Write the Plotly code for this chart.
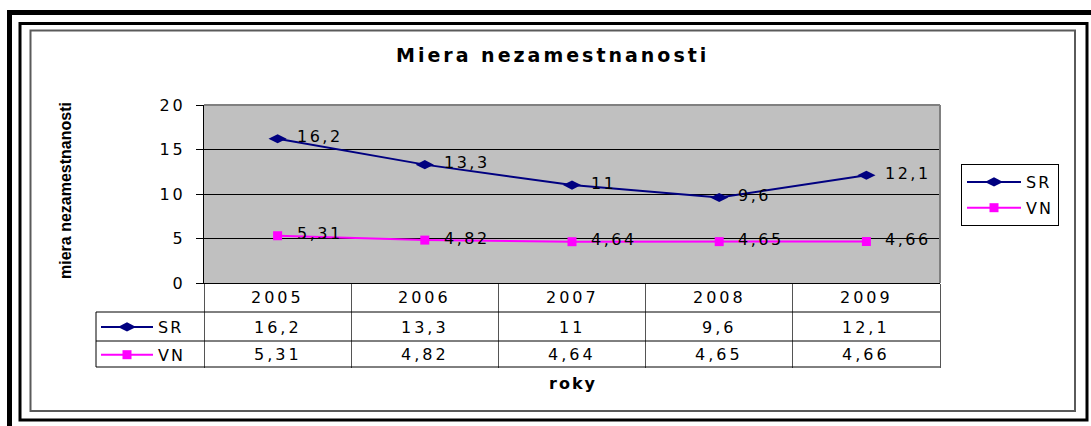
import plotly.graph_objects as go

# ---- data ----
years = ["2005", "2006", "2007", "2008", "2009"]
sr = [16.2, 13.3, 11, 9.6, 12.1]
vn = [5.31, 4.82, 4.64, 4.65, 4.66]
series_names = ["SR", "VN"]
y_ticks = [0, 5, 10, 15, 20]
title_text = "Miera nezamestnanosti"
y_title = "miera nezamestnanosti"
x_title = "roky"

# ---- helpers ----
W, H = 1091, 426


def px_x(p):
    return p / W


def px_y(p):
    return (H - p) / H


def fmt(v):
    return f"{v:g}".replace(".", ",")


def sp(t, s):
    return f'<span style="letter-spacing:{s}px">{t}</span>'


FONT = "DejaVu Sans"
ARIAL = "Liberation Sans, Arial"
SR_COLOR = "#000080"
VN_COLOR = "#FF00FF"
styles = {
    "SR": dict(color=SR_COLOR, symbol="diamond-wide", size=13),
    "VN": dict(color=VN_COLOR, symbol="square", size=9),
}

PLOT_L, PLOT_R, PLOT_T, PLOT_B = 204, 940, 105, 283
TABLE_L = 96
ROW_LINES = [312, 341, 367]
HEADER_Y = 297
ROW_Y = [327, 354]

fig = go.Figure()
series_vals = [sr, vn]
for i, (name, vals) in enumerate(zip(series_names, series_vals)):
    st = styles[name]
    fig.add_trace(go.Scatter(
        x=years, y=vals, mode="lines+markers", name=sp(name, 2),
        line=dict(color=st["color"], width=2),
        marker=dict(symbol=st["symbol"], size=st["size"], color=st["color"]),
        legend="legend", legendgroup=f"m{i}", cliponaxis=False,
    ))
for i, name in enumerate(series_names):
    st = styles[name]
    fig.add_trace(go.Scatter(
        x=[None], y=[None], mode="lines+markers", name=sp(name, 2),
        line=dict(color=st["color"], width=2),
        marker=dict(symbol=st["symbol"], size=st["size"], color=st["color"]),
        legend="legend2", legendgroup=f"t{i}", hoverinfo="skip",
    ))

annotations = []
# data labels (x given as category index)
for vals in series_vals:
    for ci, v in enumerate(vals):
        annotations.append(dict(
            x=ci, y=v, xref="x", yref="y", text=sp(fmt(v), 2.5), showarrow=False,
            xanchor="left", yanchor="middle", xshift=17, yshift=2,
            font=dict(family=FONT, size=16, color="black"),
        ))
# table header and cells
for ci, yr in enumerate(years):
    annotations.append(dict(
        x=ci, y=px_y(HEADER_Y), xref="x", yref="paper", text=sp(yr, 3), showarrow=False,
        xanchor="center", yanchor="middle", font=dict(family=FONT, size=16, color="black"),
    ))
for ry, vals in zip(ROW_Y, series_vals):
    for ci, v in enumerate(vals):
        annotations.append(dict(
            x=ci, y=px_y(ry), xref="x", yref="paper", text=sp(fmt(v), 3), showarrow=False,
            xanchor="center", yanchor="middle", font=dict(family=FONT, size=16, color="black"),
        ))
# titles
annotations.append(dict(
    x=px_x(552), y=px_y(55), xref="paper", yref="paper", text=sp(title_text, 3),
    showarrow=False, xanchor="center", yanchor="middle",
    font=dict(family=FONT, size=19, color="black", weight="bold"),
))
annotations.append(dict(
    x=px_x(65), y=px_y(191), xref="paper", yref="paper", text=y_title, textangle=-90,
    showarrow=False, xanchor="center", yanchor="middle",
    font=dict(family=ARIAL, size=16, color="black", weight="bold"),
))
annotations.append(dict(
    x=px_x(573), y=px_y(383), xref="paper", yref="paper", text=sp(x_title, 2),
    showarrow=False, xanchor="center", yanchor="middle",
    font=dict(family=FONT, size=16, color="black", weight="bold"),
))

shapes = []
# frames
shapes.append(dict(type="rect", xref="paper", yref="paper", x0=px_x(9.5), x1=px_x(1110),
                   y0=px_y(12.5), y1=px_y(450), line=dict(color="black", width=5)))
shapes.append(dict(type="rect", xref="paper", yref="paper", x0=px_x(20), x1=px_x(1087),
                   y0=px_y(23.5), y1=px_y(420), line=dict(color="black", width=3)))
shapes.append(dict(type="rect", xref="paper", yref="paper", x0=px_x(30.5), x1=px_x(1075),
                   y0=px_y(30.5), y1=px_y(411), line=dict(color="#5a5a5a", width=2)))
# plot area top / right border
shapes.append(dict(type="line", xref="x domain", yref="y domain", x0=0, x1=1, y0=1, y1=1,
                   line=dict(color="#808080", width=2), layer="above"))
shapes.append(dict(type="line", xref="x domain", yref="y domain", x0=1, x1=1, y0=0, y1=1,
                   line=dict(color="#808080", width=2), layer="above"))
# table lines
for ly in ROW_LINES:
    shapes.append(dict(type="line", xref="paper", yref="paper", x0=px_x(TABLE_L), x1=px_x(PLOT_R),
                       y0=px_y(ly), y1=px_y(ly), line=dict(color="black", width=1)))
shapes.append(dict(type="line", xref="paper", yref="paper", x0=px_x(TABLE_L), x1=px_x(TABLE_L),
                   y0=px_y(ROW_LINES[0]), y1=px_y(ROW_LINES[-1]), line=dict(color="black", width=1)))

fig.update_layout(
    width=W, height=H, margin=dict(l=0, r=0, t=0, b=0, pad=0, autoexpand=False),
    paper_bgcolor="white", plot_bgcolor="#C0C0C0",
    xaxis=dict(
        domain=[px_x(PLOT_L), px_x(PLOT_R)], type="category", categoryorder="array",
        categoryarray=years, range=[-0.5, len(years) - 0.5], autorange=False, automargin=False,
        showline=True, linecolor="black",
        linewidth=1, ticks="outside", tickson="boundaries", ticklen=ROW_LINES[-1] - PLOT_B,
        tickcolor="#555555", tickwidth=1, showticklabels=False, showgrid=False, fixedrange=True,
    ),
    yaxis=dict(
        domain=[px_y(PLOT_B), px_y(PLOT_T)], range=[0, 20], autorange=False, automargin=False,
        tickvals=y_ticks,
        ticktext=[sp(str(t), 3) for t in y_ticks], ticks="outside", ticklen=7, tickcolor="black",
        showline=True, linecolor="black", linewidth=1, showgrid=True, gridcolor="black",
        gridwidth=1, zeroline=False, tickfont=dict(family=FONT, size=16, color="black"),
        ticklabelstandoff=7, fixedrange=True,
    ),
    legend=dict(
        x=px_x(961), y=px_y(164), xanchor="left", yanchor="top", bordercolor="black",
        borderwidth=1, bgcolor="white", font=dict(family=FONT, size=16, color="black"),
        itemwidth=54, tracegroupgap=2,
    ),
    legend2=dict(
        x=px_x(TABLE_L), y=px_y(ROW_LINES[0] - 2), xanchor="left", yanchor="top",
        borderwidth=0, bgcolor="rgba(0,0,0,0)", font=dict(family=FONT, size=16, color="black"),
        itemwidth=52, tracegroupgap=4,
    ),
    showlegend=True,
    annotations=annotations,
    shapes=shapes,
)

fig.write_html(
    "out.html",
    config={"displayModeBar": False},
    post_script="document.body.style.margin='0px';document.body.style.overflow='hidden';",
)
